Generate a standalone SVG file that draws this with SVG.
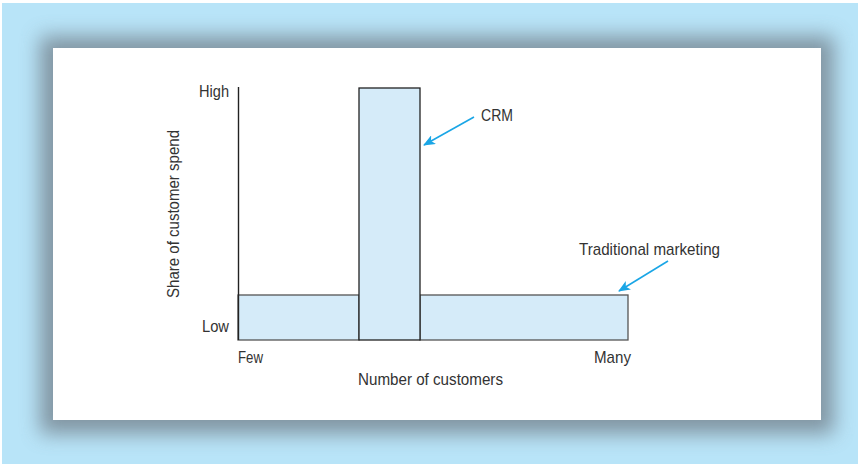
<svg xmlns="http://www.w3.org/2000/svg" width="860" height="464" viewBox="0 0 860 464">
<defs>
<filter id="sh" x="-10%" y="-20%" width="120%" height="140%"><feGaussianBlur stdDeviation="10"/></filter>
<marker id="ah" viewBox="0 0 12 10" refX="11" refY="5" markerWidth="12" markerHeight="10" markerUnits="userSpaceOnUse" orient="auto"><path d="M0,0 L12,5 L0,10 L3,5 Z" fill="#1aa6e6"/></marker>
</defs>
<style>
text{font-family:"Liberation Sans",Arial,sans-serif;font-size:17px;fill:#333}
.bar{fill:#d5ebf9;stroke:#555;stroke-width:1.3}
.arr{stroke:#1aa6e6;stroke-width:1.6;fill:none;marker-end:url(#ah)}
</style>
<rect x="2" y="3" width="856" height="461" fill="#b8e4f8"/>
<rect x="40" y="36" width="794" height="398" fill="#6f7c86" opacity="0.75" filter="url(#sh)"/>
<rect x="53" y="48" width="768" height="372" fill="#fff"/>
<g id="bar-left"><rect class="bar" x="238" y="295" width="121" height="45"/></g>
<g id="bar-right"><rect class="bar" x="420" y="295" width="208" height="45"/></g>
<g id="bar-crm"><rect class="bar" x="359" y="88" width="61" height="252" style="stroke:#222"/></g>
<g id="axes"><path d="M238.5,87 V340" stroke="#222" stroke-width="1.4" fill="none"/></g>
<g id="labels">
<text x="229" y="97" text-anchor="end" textLength="30" lengthAdjust="spacingAndGlyphs">High</text>
<text x="229" y="332" text-anchor="end" textLength="27" lengthAdjust="spacingAndGlyphs">Low</text>
<text x="238" y="363" textLength="25" lengthAdjust="spacingAndGlyphs">Few</text>
<text x="594" y="363" textLength="37" lengthAdjust="spacingAndGlyphs">Many</text>
<text x="358" y="385" textLength="145" lengthAdjust="spacingAndGlyphs">Number of customers</text>
<text transform="translate(179,298) rotate(-90)" x="0" y="0" textLength="168" lengthAdjust="spacingAndGlyphs">Share of customer spend</text>
</g>
<g id="crm-label"><text x="481" y="121" textLength="32" lengthAdjust="spacingAndGlyphs">CRM</text></g>
<g id="trad-label"><text x="579" y="255" textLength="141" lengthAdjust="spacingAndGlyphs">Traditional marketing</text></g>
<g id="connectors">
<path class="arr" d="M474,117 L424,145"/>
<path class="arr" d="M668,261 L619,291"/>
</g>
</svg>
